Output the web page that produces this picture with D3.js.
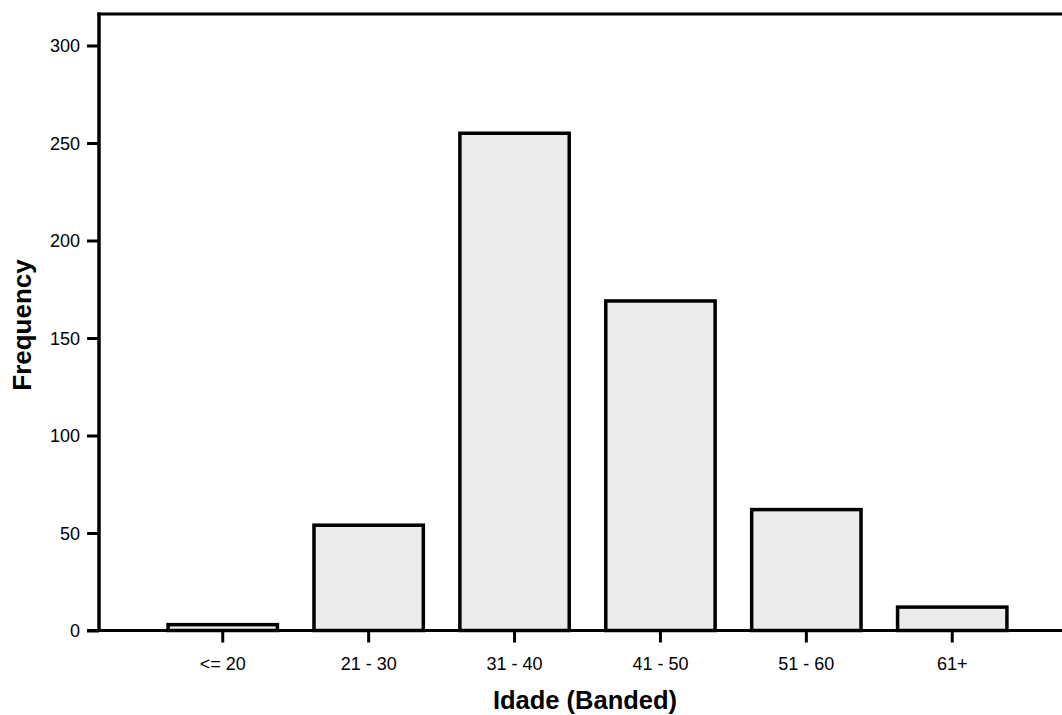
<!DOCTYPE html>
<html>
<head>
<meta charset="utf-8">
<script src="https://cdn.jsdelivr.net/npm/d3@7"></script>
<style>
  html, body { margin: 0; padding: 0; background: #fff; }
  svg { display: block; }
  text { font-family: "Liberation Sans", Arial, Helvetica, sans-serif; fill: #000; }
</style>
</head>
<body>
<svg id="chart" width="1062" height="715"></svg>
<script>
const categories = ["<= 20", "21 - 30", "31 - 40", "41 - 50", "51 - 60", "61+"];
const frequencies = [3, 54, 255, 169, 62, 12];
const yTicks = [0, 50, 100, 150, 200, 250, 300];
const xTitle = "Idade (Banded)";
const yTitle = "Frequency";

const svg = d3.select("#chart");
const plotLeft = 99, plotRight = 1077, plotTop = 14, plotBottom = 630.5;

const x = d3.scaleBand().domain(categories).range([98, plotRight]).paddingInner(0.23).paddingOuter(0.47);
const y = d3.scaleLinear().domain([0, 300 * (plotBottom - plotTop) / (plotBottom - 45.5)]).range([plotBottom, plotTop]);

// bars
svg.append("g").selectAll("rect").data(frequencies).join("rect")
  .attr("x", (d, i) => x(categories[i]) + 1.5)
  .attr("width", x.bandwidth() - 3)
  .attr("y", d => y(d))
  .attr("height", d => y(0) - y(d))
  .attr("fill", "#ebebeb")
  .attr("stroke", "#000")
  .attr("stroke-width", 3.5);

// y axis
const yAxis = d3.axisLeft(y).tickValues(yTicks).tickSize(12).tickPadding(7).tickSizeOuter(0);
const gy = svg.append("g").attr("transform", `translate(${plotLeft},0)`).call(yAxis);
gy.select(".domain").remove();
gy.selectAll(".tick line").attr("stroke", "#000").attr("stroke-width", 3);
gy.selectAll(".tick text").style("font-size", "18px").attr("dy", "0.34em");

// x axis
const xAxis = d3.axisBottom(x).tickSize(12).tickPadding(15).tickSizeOuter(0);
const gx = svg.append("g").attr("transform", `translate(0,${plotBottom})`).call(xAxis);
gx.select(".domain").remove();
gx.selectAll(".tick line").attr("stroke", "#000").attr("stroke-width", 3);
gx.selectAll(".tick text").style("font-size", "18px");

// frame lines
svg.append("line").attr("x1", 87).attr("x2", 1062).attr("y1", plotBottom).attr("y2", plotBottom)
  .attr("stroke", "#000").attr("stroke-width", 3);
svg.append("line").attr("x1", plotLeft).attr("x2", plotLeft).attr("y1", plotTop - 1.5).attr("y2", plotBottom + 1.5)
  .attr("stroke", "#000").attr("stroke-width", 3.5);
svg.append("line").attr("x1", plotLeft - 1.5).attr("x2", 1062).attr("y1", plotTop).attr("y2", plotTop)
  .attr("stroke", "#000").attr("stroke-width", 3);

// axis titles
svg.append("text").attr("x", 585).attr("y", 709).attr("text-anchor", "middle")
  .style("font-size", "25.5px").style("font-weight", "bold").text(xTitle);
svg.append("text").attr("transform", "translate(31,325) rotate(-90)").attr("text-anchor", "middle")
  .style("font-size", "26px").style("font-weight", "bold").text(yTitle);
</script>
</body>
</html>
